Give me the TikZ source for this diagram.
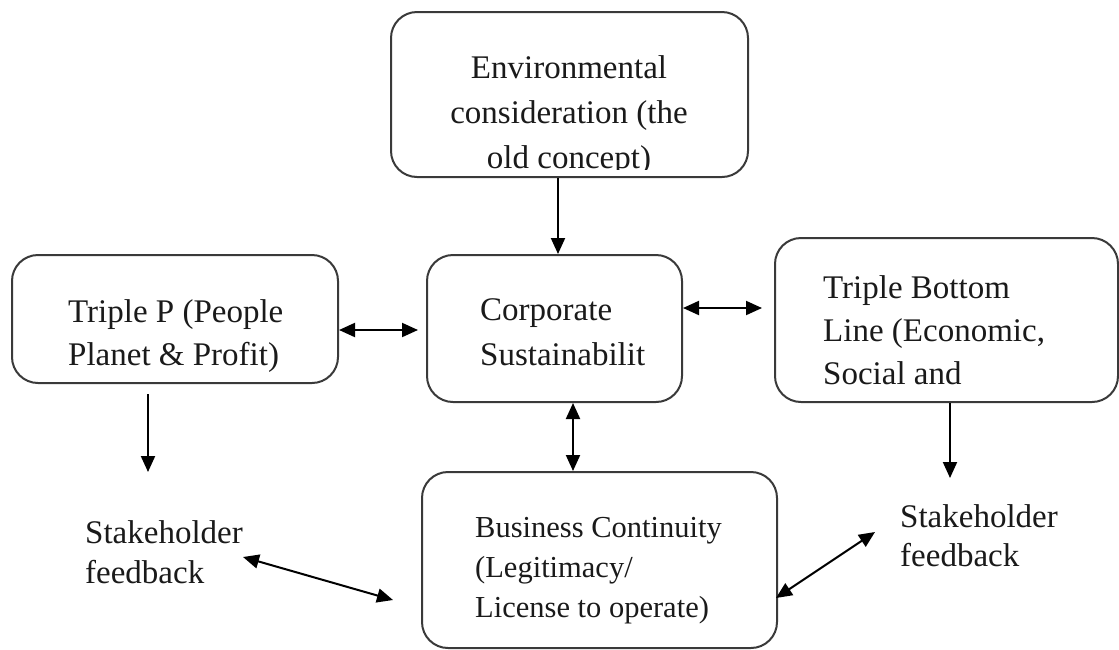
\documentclass[tikz,border=0pt]{standalone}
\usepackage{fontspec}
\setmainfont{Liberation Serif}
\usetikzlibrary{arrows.meta}
\definecolor{boxline}{HTML}{3A3A3A}
\definecolor{inkc}{HTML}{1A1A1A}
\tikzset{
  box/.style={draw=boxline, line width=2pt, rounded corners=26pt, inner sep=0pt},
  txt/.style={inner sep=0pt, text=inkc, font=\fontsize{33}{43}\selectfont, align=left, anchor=base west},
  arr/.style={line width=2pt, draw=black, -{Triangle[length=16pt,width=14pt]}},
  darr/.style={line width=2pt, draw=black, {Triangle[length=16pt,width=14pt]}-{Triangle[length=16pt,width=14pt]}}
}
\begin{document}
\begin{tikzpicture}[x=1pt,y=-1pt]
\useasboundingbox (0,0) rectangle (1119,649);
\fill[white] (0,0) rectangle (1119,649);
% boxes
\node[box, minimum width=357pt, minimum height=165pt] (env) at (569.5,94.5) {};
\node[box, minimum width=255pt, minimum height=147pt] (corp) at (554.5,328.5) {};
\node[box, minimum width=326pt, minimum height=128pt] (tp) at (175,319) {};
\node[box, minimum width=343pt, minimum height=164pt] (tbl) at (946.5,320) {};
\node[box, minimum width=355pt, minimum height=176pt] (bc) at (599.5,560) {};
% texts (base anchor = baseline of the last line)
\begin{scope}
\clip (380,0) rectangle (760,169);
\node[txt, align=center, anchor=base, font=\fontsize{33}{45}\selectfont] (envt) at (569,168) {Environmental\\consideration (the\\old concept)};
\end{scope}
\node[txt] (tpt) at (68,365) {Triple P (People\\Planet \& Profit)};
\node[txt, font=\fontsize{33}{45}\selectfont] (corpt) at (480,365) {Corporate\\Sustainabilit};
\node[txt, font=\fontsize{33}{43}\selectfont] (tblt) at (823,384) {Triple Bottom\\Line (Economic,\\Social and};
\node[txt, font=\fontsize{30.5}{40}\selectfont] (bct) at (475,617) {Business Continuity\\(Legitimacy/\\License to operate)};
\node[txt, font=\fontsize{33}{40}\selectfont] (slt) at (85,583) {Stakeholder\\feedback};
\node[txt, font=\fontsize{33}{39}\selectfont] (srt) at (900,566) {Stakeholder\\feedback};
% helper coordinates
\coordinate (xa) at (558,0);
\coordinate (ya) at (0,330);
\coordinate (yb) at (0,308);
\coordinate (xc) at (573,0);
\coordinate (xd) at (148,0);
\coordinate (xe) at (950,0);
\coordinate (tpend) at (148,472);
\coordinate (tblend) at (950,478);
\coordinate (sla) at (243,557);
\coordinate (bcl) at (393,600);
\coordinate (sra) at (875,532);
\coordinate (bcr) at (776,598);
% connectors
\draw[arr] (env.south -| xa) -- (corp.north -| xa);
\draw[darr] (tp.east |- ya) -- ([xshift=-8pt]corp.west |- ya);
\draw[darr] (corp.east |- yb) -- ([xshift=-12pt]tbl.west |- yb);
\draw[darr] (corp.south -| xc) -- (bc.north -| xc);
\draw[arr] ([yshift=-10pt]tp.south -| xd) -- (tpend);
\draw[arr] (tbl.south -| xe) -- (tblend);
\draw[darr] (sla) -- (bcl);
\draw[darr] (sra) -- (bcr);
\end{tikzpicture}
\end{document}
